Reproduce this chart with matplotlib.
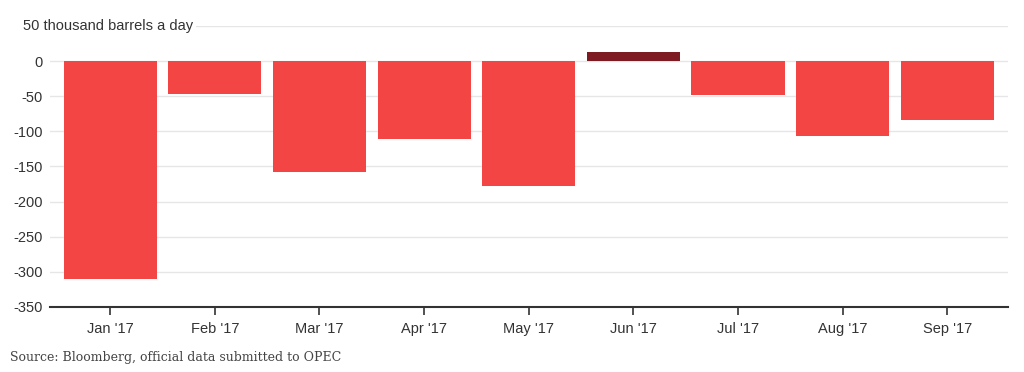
import matplotlib.pyplot as plt
from matplotlib import transforms

MONTHS = ["Jan '17", "Feb '17", "Mar '17", "Apr '17", "May '17",
          "Jun '17", "Jul '17", "Aug '17", "Sep '17"]
CHANGE = [-310, -47, -158, -111, -178, 13, -48, -106, -84]
Y_TICKS = [50, 0, -50, -100, -150, -200, -250, -300, -350]

RED = "#F44545"
DARK_RED = "#7E1A22"
TEXT = "#333333"
GRID = "#E6E6E9"

plt.rcParams["font.family"] = ["Liberation Sans", "DejaVu Sans"]

fig = plt.figure(figsize=(10.24, 3.72), dpi=100)
ax = fig.add_axes([50 / 1024, 1 - 307 / 372, 958 / 1024, (307 - 25.9) / 372])

x = range(len(MONTHS))
colors = [DARK_RED if v > 0 else RED for v in CHANGE]
ax.bar(x, CHANGE, width=0.89, color=colors, zorder=3)

ax.set_xlim(-0.575, len(MONTHS) - 0.42)
ax.set_ylim(-350, 50)
ax.set_yticks(Y_TICKS)
ax.set_yticklabels(["" if t == 50 else str(t) for t in Y_TICKS])
ax.set_xticks(list(x))
ax.set_xticklabels(MONTHS)

ax.grid(True, axis="y", color=GRID, linewidth=1, zorder=0)
for name in ("top", "right", "left"):
    ax.spines[name].set_visible(False)
ax.spines["bottom"].set_color(TEXT)
ax.spines["bottom"].set_linewidth(1.5)
ax.spines["bottom"].set_zorder(4)

ax.tick_params(axis="y", length=0, pad=5, labelsize=10.5, labelcolor=TEXT)
ax.tick_params(axis="x", length=6, width=1.2, color=TEXT, pad=5,
               labelsize=10.5, labelcolor=TEXT)

trans = transforms.blended_transform_factory(fig.transFigure, ax.transData)
ax.text(23 / 1024, 50, "50 thousand barrels a day", transform=trans,
        ha="left", va="center", fontsize=10.5, color=TEXT, clip_on=False,
        bbox={"facecolor": "white", "edgecolor": "none", "pad": 2}, zorder=5)

fig.text(10 / 1024, 1 - 357 / 372, "Source: Bloomberg, official data submitted to OPEC",
         family=["DejaVu Serif"], fontsize=9, color="#444444",
         ha="left", va="center")

fig.savefig("out.png", dpi=100, facecolor="white")
